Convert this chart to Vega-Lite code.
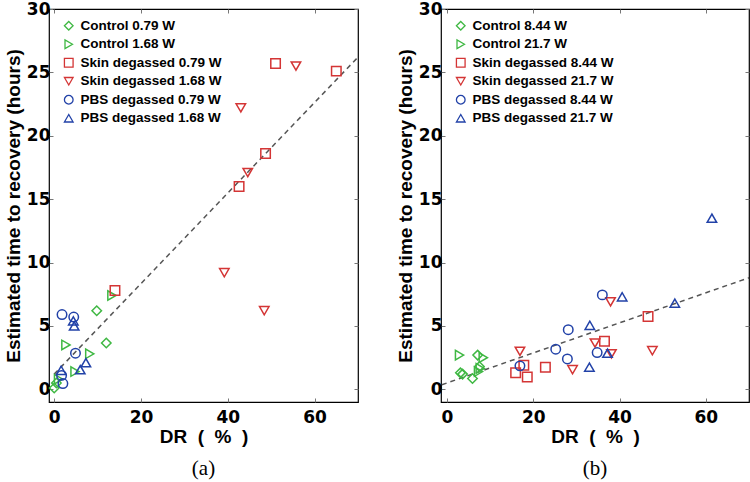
{
  "$schema": "https://vega.github.io/schema/vega-lite/v6.json",
  "padding": {"left": 3, "top": -1, "right": 0, "bottom": 0},
  "background": "white",
  "config": {
    "view": {"stroke": "black", "strokeWidth": 1.2},
    "axis": {
      "domain": false, "grid": false,
      "labelFont": "DejaVu Sans", "labelFontWeight": "bold", "labelFontSize": 17, "labelColor": "black",
      "titleFont": "Liberation Sans", "titleFontWeight": "bold", "titleFontSize": 19, "titleColor": "black",
      "tickColor": "#777", "tickSize": -4
    },
    "legend": {
      "labelFont": "Liberation Sans", "labelFontWeight": "bold", "labelFontSize": 13.5, "labelColor": "black",
      "symbolSize": 75, "symbolStrokeWidth": 1.3, "rowPadding": 3.5, "labelOffset": 5, "padding": 0
    },
    "title": {"font": "Liberation Serif", "fontSize": 21, "fontWeight": "normal", "color": "black", "orient": "bottom", "offset": 12}
  },
  "datasets": {
    "a": [
      {"series": "Control 0.79 W", "DR": 0.0, "T": 0.1},
      {"series": "Control 0.79 W", "DR": 0.5, "T": 0.5},
      {"series": "Control 0.79 W", "DR": 9.8, "T": 6.2},
      {"series": "Control 0.79 W", "DR": 12.0, "T": 3.65},
      {"series": "Control 1.68 W", "DR": 1.0, "T": 0.8},
      {"series": "Control 1.68 W", "DR": 2.7, "T": 3.5},
      {"series": "Control 1.68 W", "DR": 8.2, "T": 2.8},
      {"series": "Control 1.68 W", "DR": 4.8, "T": 1.4},
      {"series": "Control 1.68 W", "DR": 13.3, "T": 7.4},
      {"series": "Skin degassed 0.79 W", "DR": 14.0, "T": 7.8},
      {"series": "Skin degassed 0.79 W", "DR": 42.6, "T": 16.0},
      {"series": "Skin degassed 0.79 W", "DR": 48.7, "T": 18.6},
      {"series": "Skin degassed 0.79 W", "DR": 51.0, "T": 25.7},
      {"series": "Skin degassed 0.79 W", "DR": 65.0, "T": 25.1},
      {"series": "Skin degassed 1.68 W", "DR": 55.7, "T": 25.5},
      {"series": "Skin degassed 1.68 W", "DR": 43.0, "T": 22.2},
      {"series": "Skin degassed 1.68 W", "DR": 44.6, "T": 17.1},
      {"series": "Skin degassed 1.68 W", "DR": 39.2, "T": 9.2},
      {"series": "Skin degassed 1.68 W", "DR": 48.4, "T": 6.2},
      {"series": "PBS degassed 0.79 W", "DR": 1.8, "T": 5.9},
      {"series": "PBS degassed 0.79 W", "DR": 4.5, "T": 5.7},
      {"series": "PBS degassed 0.79 W", "DR": 4.9, "T": 2.85},
      {"series": "PBS degassed 0.79 W", "DR": 2.0, "T": 0.45},
      {"series": "PBS degassed 0.79 W", "DR": 1.7, "T": 1.1},
      {"series": "PBS degassed 1.68 W", "DR": 4.6, "T": 5.0},
      {"series": "PBS degassed 1.68 W", "DR": 4.4, "T": 5.4},
      {"series": "PBS degassed 1.68 W", "DR": 7.3, "T": 2.1},
      {"series": "PBS degassed 1.68 W", "DR": 6.0, "T": 1.55},
      {"series": "PBS degassed 1.68 W", "DR": 1.6, "T": 1.5}
    ],
    "b": [
      {"series": "Control 8.44 W", "DR": 3.1, "T": 1.3},
      {"series": "Control 8.44 W", "DR": 3.6, "T": 1.2},
      {"series": "Control 8.44 W", "DR": 5.9, "T": 0.85},
      {"series": "Control 8.44 W", "DR": 7.1, "T": 2.7},
      {"series": "Control 8.44 W", "DR": 7.5, "T": 1.8},
      {"series": "Control 21.7 W", "DR": 2.9, "T": 2.7},
      {"series": "Control 21.7 W", "DR": 8.4, "T": 2.5},
      {"series": "Control 21.7 W", "DR": 7.7, "T": 1.65},
      {"series": "Control 21.7 W", "DR": 7.3, "T": 1.4},
      {"series": "Skin degassed 8.44 W", "DR": 15.9, "T": 1.3},
      {"series": "Skin degassed 8.44 W", "DR": 17.8, "T": 1.9},
      {"series": "Skin degassed 8.44 W", "DR": 18.6, "T": 0.97},
      {"series": "Skin degassed 8.44 W", "DR": 22.8, "T": 1.75},
      {"series": "Skin degassed 8.44 W", "DR": 36.5, "T": 3.8},
      {"series": "Skin degassed 8.44 W", "DR": 46.6, "T": 5.75},
      {"series": "Skin degassed 21.7 W", "DR": 16.9, "T": 3.0},
      {"series": "Skin degassed 21.7 W", "DR": 29.1, "T": 1.55},
      {"series": "Skin degassed 21.7 W", "DR": 34.3, "T": 3.65},
      {"series": "Skin degassed 21.7 W", "DR": 38.1, "T": 2.8},
      {"series": "Skin degassed 21.7 W", "DR": 37.9, "T": 6.9},
      {"series": "Skin degassed 21.7 W", "DR": 47.6, "T": 3.05},
      {"series": "PBS degassed 8.44 W", "DR": 16.9, "T": 1.85},
      {"series": "PBS degassed 8.44 W", "DR": 25.2, "T": 3.17},
      {"series": "PBS degassed 8.44 W", "DR": 28.1, "T": 4.7},
      {"series": "PBS degassed 8.44 W", "DR": 27.9, "T": 2.4},
      {"series": "PBS degassed 8.44 W", "DR": 34.8, "T": 2.9},
      {"series": "PBS degassed 8.44 W", "DR": 36.0, "T": 7.45},
      {"series": "PBS degassed 21.7 W", "DR": 33.1, "T": 5.05},
      {"series": "PBS degassed 21.7 W", "DR": 33.0, "T": 1.75},
      {"series": "PBS degassed 21.7 W", "DR": 37.2, "T": 2.85},
      {"series": "PBS degassed 21.7 W", "DR": 40.6, "T": 7.3},
      {"series": "PBS degassed 21.7 W", "DR": 52.8, "T": 6.8},
      {"series": "PBS degassed 21.7 W", "DR": 61.4, "T": 13.5}
    ],
    "fitA": [{"DR": 0, "T": 1.2}, {"DR": 70, "T": 26.2}],
    "fitB": [{"DR": -1.2, "T": 0.36}, {"DR": 70, "T": 8.8}]
  },
  "spacing": 33,
  "resolve": {"scale": {"color": "independent", "shape": "independent"}},
  "hconcat": [
    {
      "width": 309, "height": 393,
      "title": {"text": "(a)"},
      "resolve": {"axis": {"x": "independent", "y": "independent"}},
      "layer": [
        {
          "data": {"name": "fitA"},
          "mark": {"type": "line", "color": "#555", "strokeDash": [5, 4], "strokeWidth": 1.5},
          "encoding": {
            "x": {"field": "DR", "type": "quantitative", "scale": {"domain": [-1.2, 70], "nice": false, "zero": false}, "axis": {"values": [0, 20, 40, 60], "labelPadding": 11, "titlePadding": 2, "title": "DR\u00a0\u00a0(\u00a0\u00a0%\u00a0\u00a0)"}},
            "y": {"field": "T", "type": "quantitative", "scale": {"domain": [-1, 30], "nice": false, "zero": false}, "axis": {"values": [0, 5, 10, 15, 20, 25, 30], "labelPadding": 3, "titlePadding": 3, "title": "Estimated time to recovery (hours)"}}
          }
        },
        {
          "data": {"name": "a"},
          "mark": {"type": "point", "filled": false, "size": 90, "strokeWidth": 1.5, "opacity": 1},
          "encoding": {
            "x": {"field": "DR", "type": "quantitative", "axis": {"orient": "top", "values": [0, 20, 40, 60], "labels": false, "title": null}},
            "y": {"field": "T", "type": "quantitative", "axis": {"orient": "right", "values": [0, 5, 10, 15, 20, 25, 30], "labels": false, "title": null}},
            "color": {"field": "series", "type": "nominal",
              "scale": {"domain": ["Control 0.79 W", "Control 1.68 W", "Skin degassed 0.79 W", "Skin degassed 1.68 W", "PBS degassed 0.79 W", "PBS degassed 1.68 W"],
                        "range": ["#3fb843", "#3fb843", "#d43535", "#d43535", "#2242a8", "#2242a8"]},
              "legend": {"title": null, "orient": "none", "legendX": 13, "legendY": 10}},
            "shape": {"field": "series", "type": "nominal",
              "scale": {"domain": ["Control 0.79 W", "Control 1.68 W", "Skin degassed 0.79 W", "Skin degassed 1.68 W", "PBS degassed 0.79 W", "PBS degassed 1.68 W"],
                        "range": ["diamond", "triangle-right", "square", "triangle-down", "circle", "triangle-up"]},
              "legend": {"title": null, "orient": "none", "legendX": 13, "legendY": 10}}
          }
        }
      ]
    },
    {
      "width": 308, "height": 393,
      "title": {"text": "(b)"},
      "resolve": {"axis": {"x": "independent", "y": "independent"}},
      "layer": [
        {
          "data": {"name": "fitB"},
          "mark": {"type": "line", "color": "#555", "strokeDash": [5, 4], "strokeWidth": 1.5},
          "encoding": {
            "x": {"field": "DR", "type": "quantitative", "scale": {"domain": [-1.4, 70], "nice": false, "zero": false}, "axis": {"values": [0, 20, 40, 60], "labelPadding": 11, "titlePadding": 2, "title": "DR\u00a0\u00a0(\u00a0\u00a0%\u00a0\u00a0)"}},
            "y": {"field": "T", "type": "quantitative", "scale": {"domain": [-1, 30], "nice": false, "zero": false}, "axis": {"values": [0, 5, 10, 15, 20, 25, 30], "labelPadding": 3, "titlePadding": 3, "title": "Estimated time to recovery (hours)"}}
          }
        },
        {
          "data": {"name": "b"},
          "mark": {"type": "point", "filled": false, "size": 90, "strokeWidth": 1.5, "opacity": 1},
          "encoding": {
            "x": {"field": "DR", "type": "quantitative", "axis": {"orient": "top", "values": [0, 20, 40, 60], "labels": false, "title": null}},
            "y": {"field": "T", "type": "quantitative", "axis": {"orient": "right", "values": [0, 5, 10, 15, 20, 25, 30], "labels": false, "title": null}},
            "color": {"field": "series", "type": "nominal",
              "scale": {"domain": ["Control 8.44 W", "Control 21.7 W", "Skin degassed 8.44 W", "Skin degassed 21.7 W", "PBS degassed 8.44 W", "PBS degassed 21.7 W"],
                        "range": ["#3fb843", "#3fb843", "#d43535", "#d43535", "#2242a8", "#2242a8"]},
              "legend": {"title": null, "orient": "none", "legendX": 13, "legendY": 10}},
            "shape": {"field": "series", "type": "nominal",
              "scale": {"domain": ["Control 8.44 W", "Control 21.7 W", "Skin degassed 8.44 W", "Skin degassed 21.7 W", "PBS degassed 8.44 W", "PBS degassed 21.7 W"],
                        "range": ["diamond", "triangle-right", "square", "triangle-down", "circle", "triangle-up"]},
              "legend": {"title": null, "orient": "none", "legendX": 13, "legendY": 10}}
          }
        }
      ]
    }
  ]
}
